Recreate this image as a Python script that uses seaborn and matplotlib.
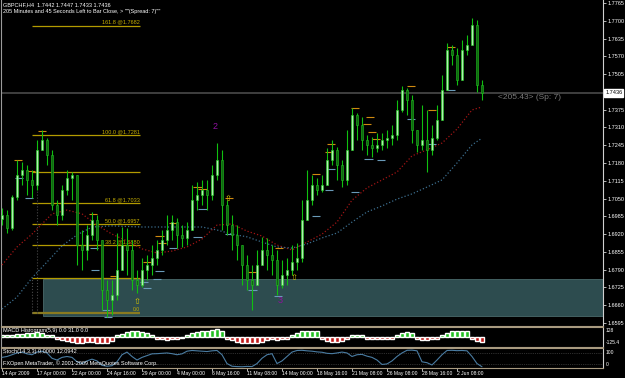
import numpy as np
import pandas as pd
import matplotlib
matplotlib.use('Agg')
import matplotlib.pyplot as plt
from matplotlib.patches import Rectangle
import seaborn as sns

sns.set_theme(style='dark')
plt.rcParams['font.family'] = ['Liberation Sans', 'DejaVu Sans']

# ---------------- data ----------------
opens = [1.6975, 1.6990, 1.6942, 1.7056, 1.7136, 1.7154, 1.7118, 1.7100, 1.7228, 1.7264,
         1.7209, 1.7026, 1.6990, 1.7081, 1.7125, 1.7136, 1.6880, 1.6862, 1.6917, 1.6972,
         1.6899, 1.6716, 1.6679, 1.6697, 1.6789, 1.6880, 1.6862, 1.6752, 1.6734, 1.6789,
         1.6807, 1.6833, 1.6862, 1.6899, 1.6935, 1.6964, 1.6917, 1.6906, 1.6935, 1.7044,
         1.7063, 1.7081, 1.7063, 1.7136, 1.7191, 1.7026, 1.6953, 1.6917, 1.6880, 1.6807,
         1.6752, 1.6734, 1.6807, 1.6862, 1.6844, 1.6825, 1.6734, 1.6771, 1.6789, 1.6818,
         1.6833, 1.6972, 1.7044, 1.7100, 1.7081, 1.7100, 1.7191, 1.7228, 1.7173, 1.7118,
         1.7228, 1.7356, 1.7319, 1.7264, 1.7246, 1.7235, 1.7246, 1.7264, 1.7271, 1.7282,
         1.7374, 1.7447, 1.7410, 1.7301, 1.7246, 1.7264, 1.7228, 1.7271, 1.7337, 1.7447,
         1.7593, 1.7575, 1.7484, 1.7593, 1.7611, 1.7685, 1.7465]
closes = [1.6990, 1.6942, 1.7056, 1.7136, 1.7154, 1.7118, 1.7100, 1.7228, 1.7264, 1.7209,
          1.7026, 1.6990, 1.7081, 1.7125, 1.7136, 1.6880, 1.6862, 1.6917, 1.6972, 1.6899,
          1.6716, 1.6679, 1.6697, 1.6789, 1.6880, 1.6862, 1.6752, 1.6734, 1.6789, 1.6807,
          1.6833, 1.6862, 1.6899, 1.6935, 1.6964, 1.6917, 1.6906, 1.6935, 1.7044, 1.7063,
          1.7081, 1.7063, 1.7136, 1.7191, 1.7026, 1.6953, 1.6917, 1.6880, 1.6807, 1.6752,
          1.6734, 1.6807, 1.6862, 1.6844, 1.6825, 1.6734, 1.6771, 1.6789, 1.6818, 1.6833,
          1.6972, 1.7044, 1.7100, 1.7081, 1.7100, 1.7191, 1.7228, 1.7173, 1.7118, 1.7228,
          1.7356, 1.7319, 1.7264, 1.7246, 1.7235, 1.7246, 1.7264, 1.7271, 1.7282, 1.7374,
          1.7447, 1.7410, 1.7301, 1.7246, 1.7264, 1.7228, 1.7271, 1.7337, 1.7447, 1.7593,
          1.7575, 1.7484, 1.7593, 1.7611, 1.7685, 1.7465, 1.7436]
highs = [1.7016, 1.7008, 1.7063, 1.7191, 1.7184, 1.7173, 1.7154, 1.7264, 1.7301, 1.7271,
         1.7228, 1.7044, 1.7100, 1.7154, 1.7147, 1.7136, 1.6935, 1.6953, 1.7001, 1.6990,
         1.6899, 1.6752, 1.6752, 1.6924, 1.6946, 1.6942, 1.6899, 1.6789, 1.6833, 1.6844,
         1.6880, 1.6899, 1.6935, 1.6990, 1.6990, 1.6979, 1.6953, 1.6964, 1.7100, 1.7111,
         1.7118, 1.7118, 1.7173, 1.7253, 1.7228, 1.7044, 1.6990, 1.6953, 1.6862, 1.6844,
         1.6807, 1.6862, 1.6910, 1.6906, 1.6880, 1.6862, 1.6825, 1.6833, 1.6880, 1.6888,
         1.7044, 1.7154, 1.7136, 1.7125, 1.7136, 1.7235, 1.7264, 1.7239, 1.7191, 1.7301,
         1.7381, 1.7363, 1.7348, 1.7282, 1.7275, 1.7290, 1.7290, 1.7301, 1.7319, 1.7410,
         1.7462, 1.7454, 1.7429, 1.7301, 1.7392, 1.7374, 1.7319, 1.7392, 1.7502, 1.7619,
         1.7611, 1.7601, 1.7630, 1.7648, 1.7710, 1.7703, 1.7484]
lows = [1.6953, 1.6924, 1.6935, 1.7044, 1.7100, 1.7063, 1.7052, 1.7081, 1.7228, 1.7173,
        1.7008, 1.6953, 1.6972, 1.7063, 1.7044, 1.6807, 1.6789, 1.6825, 1.6899, 1.6862,
        1.6643, 1.6617, 1.6624, 1.6679, 1.6789, 1.6771, 1.6716, 1.6705, 1.6727, 1.6752,
        1.6771, 1.6807, 1.6844, 1.6880, 1.6899, 1.6869, 1.6873, 1.6880, 1.6935, 1.7008,
        1.7026, 1.7008, 1.7044, 1.7118, 1.6935, 1.6917, 1.6862, 1.6825, 1.6734, 1.6716,
        1.6643, 1.6734, 1.6825, 1.6789, 1.6771, 1.6697, 1.6723, 1.6734, 1.6771, 1.6789,
        1.6818, 1.6990, 1.7026, 1.7063, 1.7074, 1.7118, 1.7173, 1.7118, 1.7092, 1.7100,
        1.7228, 1.7264, 1.7228, 1.7209, 1.7202, 1.7220, 1.7228, 1.7235, 1.7246, 1.7264,
        1.7367, 1.7356, 1.7253, 1.7220, 1.7228, 1.7147, 1.7209, 1.7264, 1.7374, 1.7447,
        1.7538, 1.7465, 1.7575, 1.7575, 1.7611, 1.7440, 1.7410]

ma_idx = [0, 3, 6, 10, 13, 16, 19, 22, 25, 28, 31, 34, 37, 40, 43, 46, 49, 52, 55, 58,
          61, 64, 67, 70, 73, 76, 79, 82, 85, 88, 91, 94, 96]
ma_fast = [1.6807, 1.6873, 1.6920, 1.6994, 1.7008, 1.6994, 1.6953, 1.6920, 1.6895, 1.6866,
           1.6851, 1.6858, 1.6873, 1.6902, 1.6953, 1.6957, 1.6931, 1.6913, 1.6880, 1.6862,
           1.6891, 1.6920, 1.6964, 1.7044, 1.7089, 1.7118, 1.7147, 1.7206, 1.7228, 1.7253,
           1.7304, 1.7374, 1.7385]
ma_slow_idx = [0, 3, 6, 9, 12, 15, 18, 22, 28, 34, 40, 43, 46, 49, 52, 55, 58, 61, 64, 67,
               70, 73, 76, 79, 82, 85, 88, 91, 94, 96]
ma_slow = [1.6646, 1.6690, 1.6760, 1.6818, 1.6877, 1.6917, 1.6946, 1.6950, 1.6946, 1.6946,
           1.6946, 1.6935, 1.6920, 1.6910, 1.6891, 1.6873, 1.6869, 1.6884, 1.6906, 1.6924,
           1.6964, 1.7001, 1.7023, 1.7048, 1.7067, 1.7092, 1.7118, 1.7180, 1.7246, 1.7271]

fib_labels = ['161.8 @1.7682', '100.0 @1.7281', '', '61.8 @1.7033', '50.0 @1.6957',
              '38.2 @1.6880', '', '0.0']
fib_prices = [1.7682, 1.7281, 1.7147, 1.7033, 1.6957, 1.6880, 1.6760, 1.6632]
fib_start, fib_end = 6.0, 27.6

zone_start = 8.2
zone_low, zone_high = 1.6621, 1.6756

swing_hi_idx = [2.4, 7.2, 5.0, 17.4, 21.6, 28.2, 30.6, 31.2, 33.4, 38.2, 39.2, 44.6, 49.2,
                54.6, 62.0, 65.0, 64.6, 69.8, 72.8, 72.2, 73.2, 74.0, 81.0, 85.2, 89.0]
swing_hi = [1.7191, 1.7297, 1.7151, 1.6994, 1.6767, 1.6818, 1.6913, 1.6888, 1.6961, 1.7092,
            1.7085, 1.7052, 1.6782, 1.6869, 1.7140, 1.7250, 1.7220, 1.7381, 1.7348, 1.7323,
            1.7293, 1.7268, 1.7462, 1.7374, 1.7604]
swing_lo_idx = [2.6, 4.6, 17.6, 17.8, 20.0, 20.4, 27.6, 28.2, 30.6, 30.2, 33.4, 38.2, 39.2,
                44.6, 49.2, 54.4, 62.0, 64.6, 65.0, 69.8, 72.4, 75.0, 81.0, 85.2, 89.0]
swing_lo = [1.7125, 1.7052, 1.6869, 1.6789, 1.6643, 1.6617, 1.6745, 1.6723, 1.6785, 1.6756,
            1.6869, 1.6910, 1.7012, 1.6920, 1.6716, 1.6694, 1.6986, 1.7081, 1.7158, 1.7074,
            1.7195, 1.7191, 1.7341, 1.7250, 1.7447]

arrow_idx = [27.0, 45.2, 58.4]
arrow_price = [1.6672, 1.7052, 1.6760]
wave_labels = ['2', '3']
wave_idx = [42.6, 55.6]
wave_price = [1.7312, 1.6679]

anchor_idx = [7.0, 6.0]
anchor_top = [1.7246, 1.6760]
anchor_bottom = [1.6632, 1.6632]

current_price = 1.7436

price_ticks = ['1.7765', '1.7700', '1.7635', '1.7570', '1.7505', '1.7375',
               '1.7310', '1.7245', '1.7180', '1.7115', '1.7050', '1.6985', '1.6920',
               '1.6855', '1.6790', '1.6725', '1.6660', '1.6595']

macd = [0.2, 0.3, 0.3, 0.4,
        0.4, 0.5, 0.5, 0.6, 0.5, 0.3, 0.2,
        -0.2, -0.4, -0.5, -0.6, -0.7, -0.7, -0.6, -0.6, -0.7, -0.8, -0.7, -0.5,
        0.2, 0.4, 0.6, 0.7, 0.7, 0.6, 0.5, 0.3,
        -0.2, -0.3, -0.4, -0.3, -0.2, -0.1,
        0.3, 0.5, 0.6, 0.7, 0.8, 0.9, 1.0, 0.8,
        -0.2, -0.4, -0.6, -0.7, -0.8, -0.8, -0.7, -0.6, -0.4,
        -0.3, -0.4, -0.3, -0.2,
        0.2, 0.5, 0.7, 0.8, 0.8, 0.7,
        -0.3, -0.5, -0.6, -0.6, -0.5, -0.3,
        0.2, 0.3, 0.2,
        -0.2, -0.3, -0.3, -0.3, -0.2, -0.2,
        0.3, 0.5, 0.6, 0.5,
        -0.3, -0.4, -0.4, -0.3, -0.2,
        0.3, 0.5, 0.7, 0.8, 0.8, 0.7,
        -0.3, -0.5, -0.6]

stoch = [55, 60, 70, 80, 85, 75, 70, 85, 90, 80,
         50, 40, 55, 60, 55, 30, 20, 35, 45, 35,
         10, 5, 8, 30, 70, 85, 60, 40, 55, 65,
         75, 76, 78, 80, 76, 70, 75, 90, 94, 92,
         90, 88, 92, 94, 70, 20, 5, 3, 2, 4,
         3, 20, 50, 70, 76, 20, 35, 60, 85, 94,
         95, 92, 90, 86, 84, 78, 76, 80, 85, 80,
         60, 70, 72, 62, 55, 40, 15, 18, 35, 60,
         80, 95, 96, 92, 30, 25, 12, 40, 70, 94,
         95, 93, 94, 92, 60, 20, 2]

time_idx = [0, 7, 14, 21, 28, 35, 42, 49, 56, 63, 70, 77, 84, 91]
time_labels = ['14 Apr 2009', '17 Apr 00:00', '22 Apr 00:00', '24 Apr 16:00', '29 Apr 00:00',
               '4 May 00:00', '6 May 16:00', '11 May 08:00', '14 May 00:00', '18 May 16:00',
               '21 May 08:00', '26 May 08:00', '28 May 16:00', '2 Jun 08:00']

# ---------------- figure ----------------
W, H = 625, 378
FS = 4.0
fig = plt.figure(figsize=(6.25, 3.78), dpi=100, facecolor='black')


def rect(x0, y0, x1, y1):
    return [x0 / W, 1 - y1 / H, (x1 - x0) / W, (y1 - y0) / H]


ax = fig.add_axes(rect(1, 0, 603, 326))
axm = fig.add_axes(rect(1, 327, 603, 347))
axs = fig.add_axes(rect(1, 348, 603, 368))
XL = (-0.2, 120.2)
for a in (ax, axm, axs):
    a.set_facecolor('black')
    a.grid(False)
    a.set_xlim(*XL)
    for s in a.spines.values():
        s.set_color('#a89a80')
        s.set_linewidth(0.8)
    a.spines['left'].set_color('#9a9a9a')
    a.spines['right'].set_color('#d0d0d0')
    a.tick_params(axis='x', bottom=False, labelbottom=False)

ax.spines['top'].set_visible(False)

df = pd.DataFrame({'i': np.arange(len(closes)), 'o': opens, 'h': highs, 'l': lows, 'c': closes})
df['bull'] = df['c'] >= df['o']

# zone
ax.add_patch(Rectangle((zone_start, zone_low), XL[1] - zone_start, zone_high - zone_low,
                       facecolor='#2d4c4f', edgecolor='#4a6a6a', lw=0.6, zorder=1))

# current price line
ax.axhline(current_price, color='#4a4a4a', lw=1.2, zorder=1)

# fib
ax.hlines(fib_prices[:-1], fib_start, fib_end, color='#b39b00', lw=0.9, zorder=2)
ax.hlines(fib_prices[-1], fib_start, fib_end, color='#8a7a20', lw=1.6, zorder=2)
for lab, p in zip(fib_labels[:-1], fib_prices[:-1]):
    if lab:
        ax.text(fib_end, p + 0.0004, lab, ha='right', va='bottom', fontsize=FS,
                color='#c8b000', zorder=3)
ax.text(26.8, fib_prices[-1] + 0.0002, fib_labels[-1], ha='center', va='bottom',
        fontsize=3.6, color='#c8b000', zorder=7)

# anchors
ax.vlines(anchor_idx, anchor_bottom, anchor_top, color='#4a4a4a', lw=0.8,
          linestyles=':', zorder=2)

# moving averages
sns.lineplot(x=ma_idx, y=ma_fast, ax=ax, color='#a01515', lw=0.9, linestyle=':', zorder=3)
sns.lineplot(x=ma_slow_idx, y=ma_slow, ax=ax, color='#3c6e8e', lw=0.9, linestyle=':', zorder=3)

# swing markers
ax.hlines(swing_hi, swing_hi_idx, np.array(swing_hi_idx) + 1.7, color='#d08a10', lw=0.8, zorder=4)
ax.hlines(swing_lo, swing_lo_idx, np.array(swing_lo_idx) + 1.7, color='#6a9ab8', lw=0.8, zorder=4)

# candles
lo = np.minimum(df['l'], np.minimum(df['o'], df['c']))
hi = np.maximum(df['h'], np.maximum(df['o'], df['c']))
ax.vlines(df['i'], lo, hi, color='#10c010', lw=0.8, zorder=5)
bull = df[df['bull']]
bear = df[~df['bull']]
ax.bar(bull['i'], bull['c'] - bull['o'], bottom=bull['o'], width=0.5,
       color='#b0f0b0', edgecolor='#20d020', lw=0.4, zorder=6)
ax.bar(bear['i'], bear['c'] - bear['o'], bottom=bear['o'], width=0.5,
       color='#0f6a0f', edgecolor='#20c020', lw=0.4, zorder=6)

# arrows and wave labels
for xi, p in zip(arrow_idx, arrow_price):
    ax.text(xi, p, '\u21e7', ha='center', va='center', fontsize=6, color='#d8c800', zorder=7,
            family=['DejaVu Sans'])
for lab, xi, p in zip(wave_labels, wave_idx, wave_price):
    ax.text(xi, p, lab, ha='center', va='center', fontsize=6.5, color='#9010a0', zorder=7)

ax.text(99.3, current_price - 0.0004, '<205.43> (Sp: 7)', ha='left', va='top',
        fontsize=6, color='#7a7a7a')

# price axis
ax.set_ylim(1.6584, 1.7776)
ax.yaxis.tick_right()
ax.set_yticks([float(t) for t in price_ticks])
ax.set_yticklabels(price_ticks)
ax.tick_params(axis='y', colors='white', labelsize=FS, length=2, width=0.5, pad=1.2,
               left=False, right=True)
ax.set_ylabel('')
ax.set_xlabel('')
ax.text(1.0035, current_price, '1.7436', transform=ax.get_yaxis_transform(), ha='left',
        va='center', fontsize=FS, color='black', zorder=10,
        bbox=dict(boxstyle='square,pad=0.2', facecolor='white', edgecolor='white'))

# header text
fig.text(3 / W, 1 - 2 / H, 'GBPCHF,H4  1.7442 1.7447 1.7433 1.7436', ha='left', va='top',
         fontsize=FS, color='white')
fig.text(3 / W, 1 - 9 / H,
         '205 Minutes and 45 Seconds Left to Bar Close, > ""(Spread: 7)""',
         ha='left', va='top', fontsize=FS, color='white')

# MACD histogram
mi = np.arange(len(macd))
mv = np.array(macd)
axm.bar(mi[mv >= 0], mv[mv >= 0], width=0.75, color='#22c022', zorder=2)
axm.bar(mi[mv < 0], mv[mv < 0], width=0.75, color='#c01818', zorder=2)
axm.set_ylim(-1.25, 1.25)
axm.set_yticks([])
axm.text(0.004, 0.95, 'MACD Histogram(5,9) 0.0 31.0 0.0', transform=axm.transAxes,
         ha='left', va='top', fontsize=FS, color='white', zorder=5)
for t, yy in zip(['128', '-125.4'], [0.8, 0.2]):
    axm.text(1.005, yy, t, transform=axm.transAxes, ha='left', va='center',
             fontsize=3.6, color='white')

# Stochastic
axs.axhline(80, color='#5a5a5a', lw=0.5, linestyle=':')
axs.axhline(20, color='#5a5a5a', lw=0.5, linestyle=':')
sns.lineplot(x=np.arange(len(stoch)), y=stoch, ax=axs, color='#4a7ca2', lw=0.8, zorder=3)
axs.set_ylim(-5, 108)
axs.set_yticks([])
axs.set_ylabel('')
axs.text(0.004, 0.95, 'Stoch(14,3,3) 0.0000 12.0942', transform=axs.transAxes,
         ha='left', va='top', fontsize=FS, color='white')
axs.text(0.004, 0.08, 'FXOpen MetaTrader, \u00a9 2001-2009 MetaQuotes Software Corp.',
         transform=axs.transAxes, ha='left', va='bottom', fontsize=FS, color='white')
for t, yy in zip(['100', '0'], [0.8, 0.2]):
    axs.text(1.005, yy, t, transform=axs.transAxes, ha='left', va='center',
             fontsize=3.6, color='white')

axs.set_xticks(time_idx)
axs.set_xticklabels(time_labels, ha='left')
axs.tick_params(axis='x', bottom=True, labelbottom=True, colors='white', labelsize=3.6,
                length=2, width=0.5, pad=0.5)
axs.set_xlim(*XL)

fig.savefig('out.png', dpi=100, facecolor='black')
